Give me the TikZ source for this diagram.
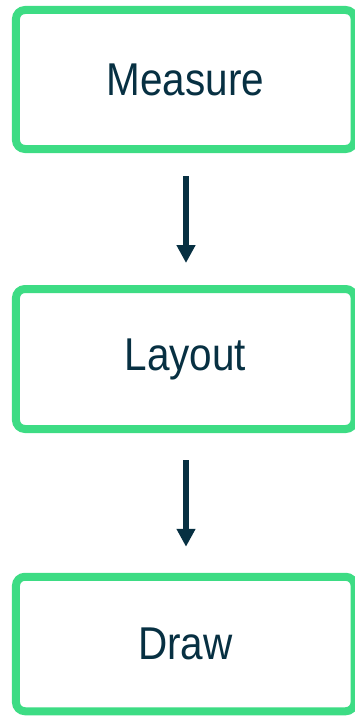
\documentclass[tikz,border=0pt]{standalone}
\usepackage{fontspec}
\setmainfont[FakeStretch=0.88]{Liberation Sans}
\usetikzlibrary{arrows.meta}
\definecolor{stepgreen}{HTML}{3DDC84}
\definecolor{stepink}{HTML}{073042}
\tikzset{
  stagebox/.style={draw=stepgreen, line width=8pt, rounded corners=9pt,
    fill=white, minimum width=338.7pt, text=stepink,
    font=\fontsize{46}{50}\selectfont, inner sep=0pt},
  flowarrow/.style={draw=stepink, line width=6pt,
    -{Triangle[length=18pt,width=18pt]}}
}
\begin{document}
\begin{tikzpicture}[x=1pt,y=1pt]
  \useasboundingbox (0,0) rectangle (355,-717);
  \node[stagebox, minimum height=139pt] (measure) at (185.3,-79.5) {Measure};
  \node[stagebox, minimum height=140pt] (layout) at (185.3,-359) {Layout};
  \node[stagebox, minimum height=134.5pt] (draw) at (185.3,-644) {Draw};
  \draw[flowarrow, shorten <=23pt, shorten >=22pt]
    ([xshift=0.7pt]measure.south) -- ([xshift=0.7pt]layout.north);
  \draw[flowarrow, shorten <=27pt, shorten >=26pt]
    ([xshift=0.7pt]layout.south) -- ([xshift=0.7pt]draw.north);
\end{tikzpicture}
\end{document}
